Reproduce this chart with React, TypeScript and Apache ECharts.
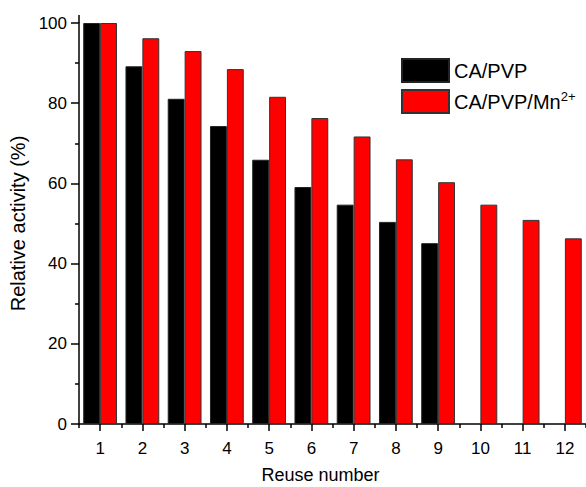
import React, { useEffect, useRef } from "react";
import * as echarts from "echarts";

const categories = ["1", "2", "3", "4", "5", "6", "7", "8", "9", "10", "11", "12"];
const caPvp = [100, 89.2, 81.1, 74.3, 65.9, 59.1, 54.7, 50.4, 45.1, null, null, null];
const caPvpMn = [100, 96.2, 93.0, 88.5, 81.6, 76.3, 71.7, 66.0, 60.3, 54.7, 50.9, 46.3];
const yTicks = [0, 20, 40, 60, 80, 100];

const FONT = "Liberation Sans, Arial, sans-serif";

export default function App() {
  const ref = useRef<HTMLDivElement>(null);
  useEffect(() => {
    if (!ref.current) return;
    const chart = echarts.init(ref.current, null, { renderer: "svg" });
    chart.setOption({
      animation: false,
      backgroundColor: "#ffffff",
      textStyle: { fontFamily: FONT, color: "#000" },
      grid: { left: 79, top: 23, right: 0, bottom: 63, containLabel: false, outerBoundsMode: "none" },
      legend: {
        orient: "vertical",
        left: 401,
        top: 58,
        padding: 0,
        itemWidth: 47,
        itemHeight: 23,
        itemGap: 6,
        icon: "rect",
        data: ["CA/PVP", "CA/PVP/Mn2+"],
        formatter: (name: string) => (name === "CA/PVP/Mn2+" ? "CA/PVP/Mn{sup|2+}" : name),
        textStyle: {
          fontFamily: FONT,
          fontSize: 20,
          color: "#000",
          rich: {
            sup: { fontFamily: FONT, fontSize: 13, color: "#000", padding: [0, 0, 10, 0] },
          },
        },
      },
      xAxis: [
        {
          type: "category",
          data: categories,
          boundaryGap: true,
          name: "Reuse number",
          nameLocation: "middle",
          nameGap: 42,
          nameTextStyle: { fontFamily: FONT, fontSize: 18, color: "#000", padding: [0, 24, 0, 0] },
          axisLine: { show: true, lineStyle: { color: "#000", width: 1.5 } },
          axisTick: { show: true, alignWithLabel: true, length: 7, lineStyle: { color: "#000", width: 1.5 } },
          axisLabel: { fontFamily: FONT, fontSize: 17, color: "#000", margin: 16, interval: 0 },
          splitLine: { show: false },
        },
        {
          type: "category",
          data: categories,
          boundaryGap: true,
          position: "bottom",
          axisLine: { show: false },
          axisTick: { show: true, length: 4, interval: 0, lineStyle: { color: "#000", width: 1.5 } },
          axisLabel: { show: false },
          splitLine: { show: false },
        },
      ],
      yAxis: {
        type: "value",
        min: 0,
        max: 100,
        interval: 20,
        name: "Relative activity (%)",
        nameLocation: "middle",
        nameGap: 38,
        nameTextStyle: { fontFamily: FONT, fontSize: 20, color: "#000" },
        axisLine: { show: true, lineStyle: { color: "#000", width: 1.5 } },
        axisTick: { show: true, length: 8, lineStyle: { color: "#000", width: 1.5 } },
        minorTick: { show: true, splitNumber: 2, length: 4, lineStyle: { color: "#000", width: 1.5 } },
        axisLabel: {
          fontFamily: FONT,
          fontSize: 17,
          color: "#000",
          margin: 12,
          customValues: yTicks,
        },
        splitLine: { show: false },
      },
      graphic: [
        {
          type: "line",
          shape: { x1: 79, y1: 15, x2: 79, y2: 23 },
          style: { stroke: "#000", lineWidth: 1.5 },
          z: 10,
        },
      ],
      series: [
        {
          name: "CA/PVP",
          type: "bar",
          data: caPvp,
          barWidth: "40%",
          barGap: "0%",
          itemStyle: { color: "#000000", borderColor: "#222", borderWidth: 1 },
        },
        {
          name: "CA/PVP/Mn2+",
          type: "bar",
          data: caPvpMn,
          barWidth: "40%",
          barGap: "0%",
          itemStyle: { color: "#ff0000", borderColor: "#333", borderWidth: 1 },
        },
      ],
    });
    return () => chart.dispose();
  }, []);
  return <div ref={ref} style={{ position: "fixed", left: 0, top: 0, width: 586, height: 487 }} />;
}
